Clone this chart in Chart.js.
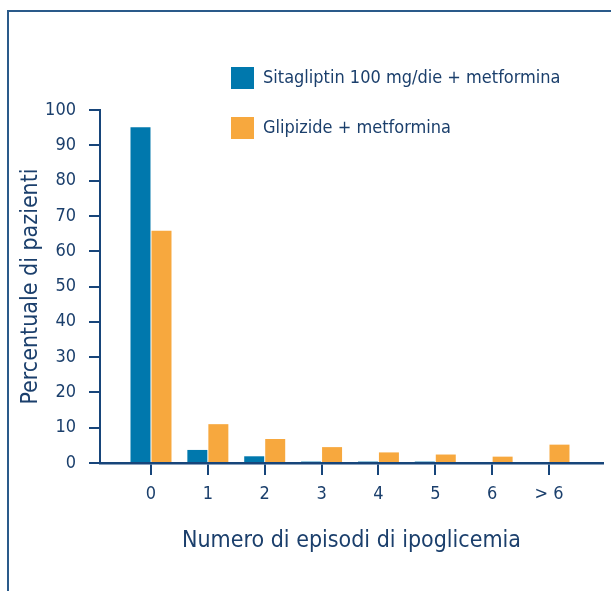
<!DOCTYPE html>
<html>
<head>
<meta charset="utf-8">
<script src="https://cdn.jsdelivr.net/npm/chart.js@4/dist/chart.umd.min.js"></script>
<style>
  html, body { margin: 0; padding: 0; background: #ffffff; }
  #wrap { position: relative; width: 611px; height: 591px; overflow: hidden; }
  #frame { position: absolute; left: 7px; top: 10px; right: -10px; bottom: -10px;
           border-left: 2px solid #2a5a8a; border-top: 2px solid #2a5a8a; }
  canvas { position: absolute; left: 0; top: 0; }
</style>
</head>
<body>
<div id="wrap">
  <div id="frame"></div>
  <canvas id="c" width="611" height="591"></canvas>
</div>
<script>
const categories = ['0', '1', '2', '3', '4', '5', '6', '> 6'];
const sitagliptin = [95.1, 3.7, 1.9, 0.4, 0.4, 0.4, 0, 0];
const glipizide = [65.8, 11.0, 6.8, 4.5, 3.0, 2.4, 1.8, 5.2];
const seriesNames = ['Sitagliptin 100 mg/die + metformina', 'Glipizide + metformina'];
const yTicks = [0, 10, 20, 30, 40, 50, 60, 70, 80, 90, 100];
const yTitle = 'Percentuale di pazienti';
const xTitle = 'Numero di episodi di ipoglicemia';

const NAVY = '#1b3f6c';
const AXIS = '#17457a';
const BLUE = '#0078ad';
const ORANGE = '#f7a83e';
const FONT = '"Liberation Sans Narrow", "Arial Narrow", "DejaVu Sans Condensed", sans-serif';

const toPoints = arr => arr.map((v, i) => ({ x: i, y: v }));

const legendPlugin = {
  id: 'customLegend',
  afterDraw(chart) {
    const ctx = chart.ctx;
    const rows = [67, 117];
    ctx.save();
    chart.data.datasets.forEach((ds, i) => {
      ctx.fillStyle = ds.backgroundColor;
      ctx.fillRect(231, rows[i], 23, 22);
      ctx.fillStyle = NAVY;
      ctx.font = '18px ' + FONT;
      ctx.textBaseline = 'middle';
      ctx.textAlign = 'left';
      ctx.fillText(ds.label, 263, rows[i] + 11.5);
    });
    ctx.restore();
  }
};

new Chart(document.getElementById('c'), {
  type: 'bar',
  data: {
    datasets: [
      { label: seriesNames[0], data: toPoints(sitagliptin), backgroundColor: BLUE },
      { label: seriesNames[1], data: toPoints(glipizide), backgroundColor: ORANGE }
    ]
  },
  plugins: [legendPlugin],
  options: {
    responsive: false,
    animation: false,
    devicePixelRatio: 1,
    categoryPercentage: 0.7387,
    barPercentage: 0.952,
    layout: { padding: { left: 0, right: 8, top: 110, bottom: 0 } },
    plugins: { legend: { display: false }, tooltip: { enabled: false } },
    scales: {
      x: {
        type: 'linear',
        min: -0.897,
        max: 7.95,
        offset: false,
        afterFit(s) { s.height = 128; },
        afterBuildTicks(s) { s.ticks = categories.map((c, i) => ({ value: i })); },
        grid: { offset: false, drawOnChartArea: false, drawTicks: true, tickLength: 12, color: AXIS, lineWidth: 2 },
        border: { display: true, color: AXIS, width: 2.5 },
        ticks: {
          color: NAVY, font: { family: FONT, size: 18 }, padding: 9, autoSkip: false, maxRotation: 0,
          callback: v => categories[v]
        },
        title: { display: true, text: xTitle, color: NAVY, font: { family: FONT, size: 23 }, padding: { top: 14, bottom: 36 } }
      },
      y: {
        min: 0, max: 100,
        afterFit(s) { s.width = 100; },
        afterBuildTicks(s) { s.ticks = yTicks.map(v => ({ value: v })); },
        grid: { drawOnChartArea: false, drawTicks: true, tickLength: 11, color: AXIS, lineWidth: 2 },
        border: { display: true, color: AXIS, width: 2 },
        ticks: { color: NAVY, font: { family: FONT, size: 18 }, padding: 13 },
        title: { display: true, text: yTitle, color: NAVY, font: { family: FONT, size: 23 }, padding: { top: 17, bottom: 0 } }
      }
    }
  }
});
</script>
</body>
</html>
